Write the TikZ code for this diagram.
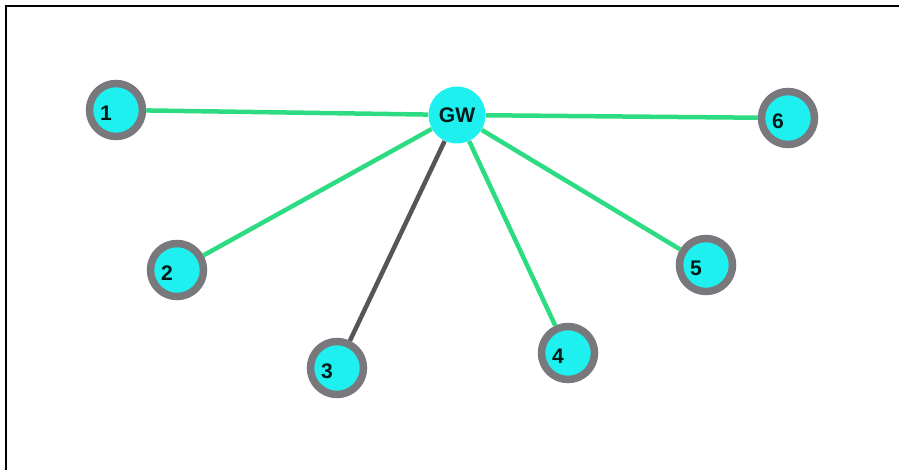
\documentclass[tikz,border=0pt]{standalone}
\usepackage{tikz}
\usepackage{fontspec}
\setsansfont{Liberation Sans}
\usetikzlibrary{calc}
\usepackage{amsmath}

\definecolor{nodecyan}{RGB}{30,240,240}
\definecolor{ringgray}{RGB}{120,120,125}
\definecolor{linkgreen}{RGB}{45,220,130}
\definecolor{linkgray}{RGB}{85,85,90}

\tikzset{
    sensor/.style={circle, fill=nodecyan, draw=ringgray, line width=1.5mm, minimum size=10.6mm, inner sep=0pt},
    gateway/.style={circle, fill=nodecyan, minimum size=11.4mm, inner sep=0pt, font=\sffamily\bfseries\large, text=black!80!teal},
    num/.style={font=\sffamily\bfseries\large, text=black!80!teal},
    link/.style={line width=0.9mm, linkgreen},
    weak/.style={line width=0.9mm, linkgray}
}

\begin{document}
\begin{tikzpicture}[x=0.2mm, y=-0.2mm]
    \useasboundingbox (0,0) rectangle (899,470);

    % Frame
    \draw[line width=0.45mm] (6,470) -- (6,6) -- (899,6);

    % Nodes
    \node[gateway] (gw) at (457,115) {GW};
    \node[sensor] (n1) at (116,110) {};
    \node[sensor] (n2) at (177,270) {};
    \node[sensor] (n3) at (337,368) {};
    \node[sensor] (n4) at (568,353) {};
    \node[sensor] (n5) at (706,265) {};
    \node[sensor] (n6) at (788,118) {};

    % Labels
    \foreach \i in {1,...,6}
        \node[num] at ($(n\i)+(-10,3)$) {\i};

    % Links
    \draw[link] (gw) -- (n1);
    \draw[link] (gw) -- (n2);
    \draw[weak] (gw) -- (n3);
    \draw[link] (gw) -- (n4);
    \draw[link] (gw) -- (n5);
    \draw[link] (gw) -- (n6);
\end{tikzpicture}
\end{document}
